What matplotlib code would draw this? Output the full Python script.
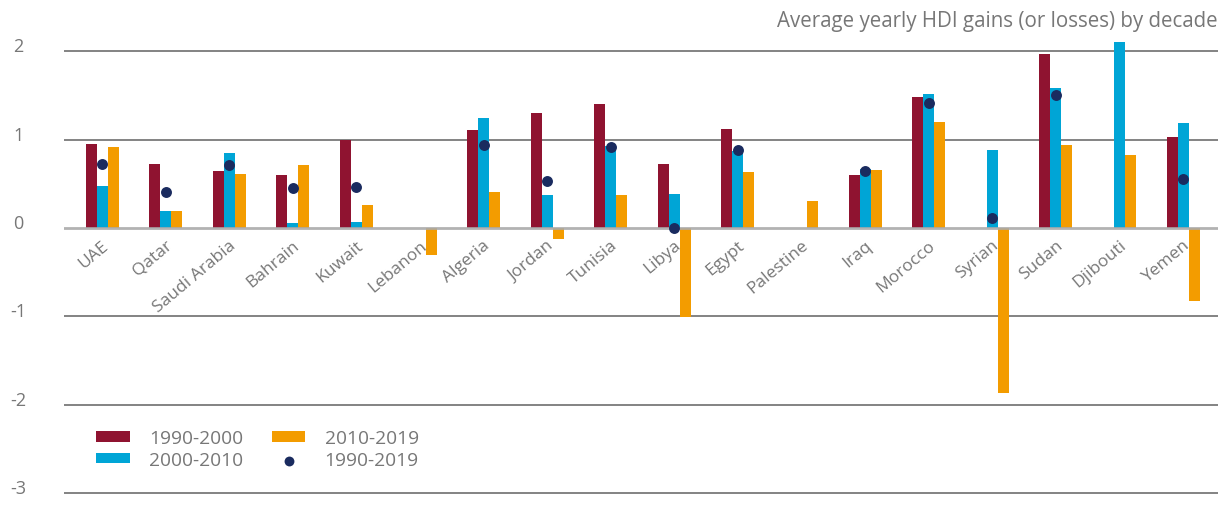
import matplotlib
matplotlib.use("Agg")
import matplotlib.pyplot as plt
import matplotlib.transforms as mtransforms
import numpy as np

plt.rcParams['font.family'] = ['Open Sans', 'DejaVu Sans']

countries = ["UAE", "Qatar", "Saudi Arabia", "Bahrain", "Kuwait", "Lebanon", "Algeria",
             "Jordan", "Tunisia", "Libya", "Egypt", "Palestine", "Iraq", "Morocco",
             "Syrian", "Sudan", "Djibouti", "Yemen"]
d1990_2000 = [0.95, 0.72, 0.64, 0.60, 1.00, np.nan, 1.11, 1.30, 1.40, 0.72, 1.12, np.nan,
              0.60, 1.48, np.nan, 1.97, np.nan, 1.03]
d2000_2010 = [0.47, 0.19, 0.85, 0.06, 0.07, np.nan, 1.24, 0.37, 0.93, 0.38, 0.87, np.nan,
              0.67, 1.52, 0.88, 1.59, 2.11, 1.19]
d2010_2019 = [0.92, 0.19, 0.61, 0.71, 0.26, -0.31, 0.41, -0.12, 0.37, -1.01, 0.63, 0.31,
              0.66, 1.20, -1.87, 0.94, 0.83, -0.83]
d1990_2019 = [0.72, 0.41, 0.71, 0.45, 0.46, np.nan, 0.94, 0.53, 0.92, 0.00, 0.88, np.nan,
              0.64, 1.42, 0.11, 1.51, np.nan, 0.55]
yticks = [-3, -2, -1, 0, 1, 2]
title = "Average yearly HDI gains (or losses) by decade"

RED = "#8F1330"
BLUE = "#00A5D6"
ORANGE = "#F39C00"
NAVY = "#1A2B5F"
GRAY = "#777777"

fig = plt.figure(figsize=(12.28, 5.06), dpi=100)
ax = fig.add_axes([64/1228, (506-502.8)/506, (1218-64)/1228, (502.8-30.2)/506])

x = np.arange(len(countries))
w = 0.173
b1 = ax.bar(x - w, d1990_2000, w, color=RED, label="1990-2000", zorder=2)
b2 = ax.bar(x, d2000_2010, w, color=BLUE, label="2000-2010", zorder=2)
b3 = ax.bar(x + w, d2010_2019, w, color=ORANGE, label="2010-2019", zorder=2)
sc = ax.scatter(x, d1990_2019, s=62, color=NAVY, label="1990-2019", zorder=4, linewidths=0)

for t in yticks:
    if t == 0:
        ax.axhline(t, color="#aaaaaa", lw=2.0, zorder=3, alpha=0.9)
    else:
        ax.axhline(t, color="#7a7a7a", lw=1.3, zorder=1)

ax.set_xlim(-0.6, 17.55)
ax.set_ylim(-3.1, 2.25)
ax.set_yticks(yticks)
ax.set_yticklabels([str(t) for t in yticks], color=GRAY, fontsize=13, ha="center",
                   va="center")
ax.tick_params(axis="y", length=0, pad=33)
offset = mtransforms.ScaledTranslation(0, 5/100, fig.dpi_scale_trans)
for lab in ax.get_yticklabels():
    lab.set_transform(lab.get_transform() + offset)
ax.set_xticks([])
for s in ax.spines.values():
    s.set_visible(False)

for i, c in enumerate(countries):
    ax.text(i - 0.01, -0.1, c, rotation=40, rotation_mode="anchor", ha="right",
            va="top", fontsize=12.5, color=GRAY)

fig.text(1218/1228, 1 - 21/506, title, ha="right", va="center", fontsize=14.8, color=GRAY)

leg = ax.legend(handles=[b1, b2, b3, sc], loc="upper left", bbox_to_anchor=(0.013, 0.19),
                ncol=2, frameon=False, fontsize=13.8, handlelength=1.75, handleheight=0.45,
                labelspacing=0.2, columnspacing=1.5, handletextpad=1.0,
                scatterpoints=1, markerscale=0.9)
for t in leg.get_texts():
    t.set_color(GRAY)

fig.savefig("out.png", dpi=100)
